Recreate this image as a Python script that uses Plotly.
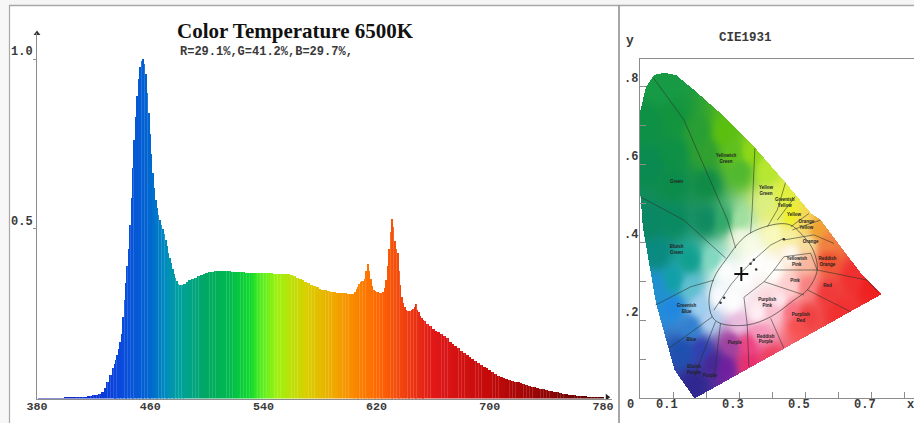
import numpy as np
import plotly.graph_objects as go

# ---------- spectrum (2 nm steps outside the peaks, 1 nm steps through the sharp peaks) ----------
coarse_a_nm = list(range(380, 436, 2))
coarse_a = [.000,.001,.001,.001,.001,.001,.001,.001,.001,.001,
            .002,.002,.002,.002,.003,.003,.004,.005,.006,.008,
            .009,.011,.014,.020,.030,.050,.068,.090]
fine_a_nm = list(range(435, 484))
fine_a = [.101,.113,.128,.145,.165,.190,.240,.290,.340,.390,.440,.510,.590,.680,.760,.830,.890,.940,.975,.995,1.000,
          .985,.955,.900,.840,.780,.720,.665,.620,.585,.560,.540,.525,.510,.500,.485,.468,.450,.430,.413,.398,
          .380,.367,.355,.345,.338,.334,.333,.335]
coarse_b_nm = list(range(484, 606, 2))
coarse_b = [.338,.344,.349,.352,.356,.360,.364,.367,
            .369,.372,.374,.376,.377,.377,.376,.376,.375,.374,
            .374,.373,.372,.372,.371,.371,.370,.370,.369,.369,
            .369,.369,.369,.369,.368,.368,.368,.368,.368,.366,
            .364,.360,.356,.352,.349,.344,.339,.335,.331,.327,
            .324,.321,.319,.317,.315,.313,.312,.311,.310,.310,
            .309,.308,.309]
fine_b_nm = list(range(605, 654))
fine_b = [.315,.322,.329,.336,.342,.345,.347,.352,.375,.396,.375,.352,.332,.320,.317,.315,.313,.312,.311,.310,.315,
          .325,.349,.390,.440,.490,.528,.505,.465,.440,.428,.375,.335,.300,.280,.270,.262,.257,.257,.258,.260,
          .263,.270,.278,.262,.254,.244,.236,.232]
coarse_c_nm = list(range(654, 782, 2))
coarse_c = [.228,.220,.213,
            .206,.200,.195,.190,.184,.177,.167,.161,.155,.148,
            .141,.135,.129,.123,.117,.111,.105,.100,.094,.089,
            .084,.078,.072,.067,.062,.060,.057,.054,.052,.050,
            .048,.046,.043,.040,.037,.035,.033,.031,.029,.027,
            .025,.023,.021,.020,.018,.016,.014,.012,.011,.010,
            .009,.008,.007,.006,.006,.005,.005,.004,.004,.004,
            .003]
color_nm = [380, 420, 440, 460, 470, 480, 500, 515, 530, 540, 550, 570, 590, 600, 620, 640, 660, 700, 740, 780]
color_hex = ["#1a1aa0", "#0a34d8", "#0a4adc", "#0066d0", "#0088c0", "#00a0a0", "#00a860", "#00b850",
             "#10d830", "#60f020", "#a0f010", "#d8d000", "#f0a800", "#f89000", "#ff6a00", "#f04010",
             "#e01818", "#c40a0a", "#900404", "#500000"]
spectrum_ticks = [380, 460, 540, 620, 700, 780]

# ---------- CIE 1931 ----------
locus_x = [.164,.103,.047,.007,0,0,.017,.042,.073,.108,.164,.255,.345,.441,.517,.547,.597,.669,.730]
locus_y = [.000,.073,.244,.440,.52,.74,.800,.830,.835,.829,.790,.722,.645,.552,.475,.457,.400,.320,.267]
# colours sampled from the diagram: x, y, r, g, b
colour_samples = [
 (.07,.80,24,155,70),(.03,.70,14,145,70),(.10,.72,18,148,62),(.174,.68,40,158,52),(.255,.68,92,192,16),
 (.03,.60,10,138,80),(.10,.63,14,144,70),(.20,.63,48,160,48),(.283,.63,96,192,32),(.333,.63,144,216,24),
 (.384,.585,184,232,48),(.303,.585,80,184,48),(.20,.55,16,140,72),(.10,.55,12,140,75),
 (.384,.50,220,240,130),(.434,.517,224,240,64),(.303,.457,160,224,160),(.253,.457,48,168,104),
 (.20,.457,16,138,96),(.10,.457,10,138,96),(.03,.45,10,135,100),(.05,.372,10,138,128),(.15,.355,16,160,144),
 (.222,.355,128,216,192),(.10,.303,16,160,168),(.05,.286,32,144,208),(.15,.286,96,192,208),(.10,.235,32,136,224),
 (.18,.235,160,208,240),(.455,.466,240,240,32),(.414,.47,232,240,112),(.495,.449,248,216,96),(.535,.432,240,160,48),
 (.505,.397,248,224,160),(.566,.397,240,128,64),(.566,.355,240,80,48),(.505,.346,248,184,160),(.455,.372,255,248,240),
 (.646,.312,240,48,48),(.70,.29,240,32,32),(.566,.269,240,58,58),(.505,.286,248,128,128),(.455,.286,255,208,208),
 (.424,.252,255,232,240),(.455,.226,248,112,128),(.404,.218,250,192,208),(.354,.218,255,240,245),(.505,.209,240,64,64),
 (.60,.22,240,48,48),(.303,.415,240,248,224),(.333,.397,248,252,232),(.404,.423,250,250,192),(.455,.415,248,240,160),
 (.253,.329,255,255,255),(.31,.31,255,255,255),(.35,.35,255,255,255),(.40,.33,255,255,252),(.28,.25,255,255,255),
 (.24,.26,250,252,255),(.154,.184,48,128,208),(.21,.20,180,210,240),(.184,.124,48,64,176),(.13,.12,30,80,176),
 (.164,.038,48,40,144),(.22,.09,70,40,150),(.255,.08,112,32,160),(.275,.14,160,64,160),(.30,.19,235,190,225),
 (.325,.14,240,64,128),(.396,.098,240,64,96),(.477,.192,248,80,80),(.36,.17,245,150,185),(.33,.09,232,48,112),
]
ellipse_x = [.209,.219,.244,.325,.396,.467,.507,.537,.522,.487,.457,.416,.325,.260,.224,.209]
ellipse_y = [.252,.209,.192,.188,.209,.252,.278,.329,.385,.423,.444,.447,.419,.355,.308,.252]
region_lines = [
 ([.315,.325],[.259,.188]), ([.315,.376,.497],[.259,.299,.265]), ([.376,.406,.436],[.299,.329,.363]),
 ([.436,.517,.537],[.363,.372,.329]), ([.406,.537,.689,.719],[.329,.329,.303,.274]),
 ([.436,.527,.588],[.406,.419,.397]), ([.436,.396,.345,.305,.275,.224],[.410,.393,.355,.321,.291,.226]),
 ([.507,.638],[.278,.222]), ([.396,.436],[.205,.128]), ([.325,.330],[.188,.081]),
 ([.244,.234,.224],[.192,.115,.047]), ([.229,.184,.164],[.197,.098,.056]), ([.219,.088],[.209,.128]),
 ([.224,.154,.047],[.303,.286,.239]), ([0,.133,.260],[.517,.457,.359]), ([.042,.133,.265,.290],[.82,.714,.457,.385]),
 ([.335,.340,.348],[.423,.483,.641]), ([.386,.416,.441],[.440,.483,.553]), ([.47,.416],[.517,.457]),
 ([.457,.512],[.440,.474]), ([.462,.547],[.432,.457]),
]
region_names = ["Green","Yellowish<br>Green","Yellow<br>Green","Greenish<br>Yellow","Yellow","Orange<br>Yellow","Orange",
                "Bluish<br>Green","Greenish<br>Blue","Blue","Bluish<br>Purple","Purple","Purple","Reddish<br>Purple","Purplish<br>Red",
                "Purplish<br>Pink","Pink","Red","Reddish<br>Orange","Yellowish<br>Pink"]
region_x = [.111,.261,.382,.439,.467,.504,.517,.111,.141,.156,.164,.212,.287,.381,.487,.386,.47,.568,.568,.475]
region_y = [.554,.613,.532,.502,.470,.444,.402,.380,.229,.150,.073,.058,.143,.151,.207,.244,.302,.288,.350,.350]
white_x = [.307]; white_y = [.319]
locus_dots_x = [.345,.352,.335,.244,.255,.436]
locus_dots_y = [.355,.330,.345,.245,.258,.408]
cie_ticks = [.1,.2,.3,.4,.5,.6,.7,.8]
cie_x_labels = [("0.1",.1),("0.3",.3),("0.5",.5),("0.7",.7)]
cie_y_labels = [(".8",.8),(".6",.6),(".4",.4),(".2",.2)]

W, H = 914, 423
def fx(p): return p / W
def fy(p): return 1 - p / H

fig = go.Figure()

# spectrum bars
stops = [[(n - 380) / 400, c] for n, c in zip(color_nm, color_hex)]
nm = coarse_a_nm + fine_a_nm + coarse_b_nm + fine_b_nm + coarse_c_nm
val = coarse_a + fine_a + coarse_b + fine_b + coarse_c
widths = ([2] * len(coarse_a)) + ([1] * len(fine_a)) + ([2] * len(coarse_b)) + ([1] * len(fine_b)) + ([2] * len(coarse_c))
fig.add_trace(go.Bar(x=nm, y=val, width=widths,
                     marker=dict(color=nm, colorscale=stops, cmin=380, cmax=780, line=dict(width=0)),
                     hoverinfo="skip", showlegend=False, xaxis="x", yaxis="y"))
# pale vertical striping of the bars
stripe_nm = [n for n in nm if n % 2 == 0]
stripe_val = [val[nm.index(n)] for n in stripe_nm]
fig.add_trace(go.Bar(x=stripe_nm, y=stripe_val, width=0.4,
                     marker=dict(color="rgba(255,255,255,0.14)", line=dict(width=0)),
                     hoverinfo="skip", showlegend=False, xaxis="x", yaxis="y"))
fig.add_trace(go.Scatter(x=[380], y=[1.075], mode="markers", cliponaxis=False,
                         marker=dict(symbol="triangle-up", size=6, color="#333"), showlegend=False, xaxis="x", yaxis="y"))
fig.add_trace(go.Scatter(x=[783], y=[.004], mode="markers", cliponaxis=False,
                         marker=dict(symbol="triangle-right", size=6, color="#222"), showlegend=False, xaxis="x", yaxis="y"))

# chromaticity field
XR, YR = (W - 640) / 330, (398.3 - 58.7) / 390
gx = np.arange(0, XR, 1 / 330)
gy = np.arange(0, YR, 1 / 390)
GX, GY = np.meshgrid(gx, gy)
samples = np.array(colour_samples, dtype=float)
ax, ay, ac = samples[:, 0], samples[:, 1], samples[:, 2:]
d2 = (GX[..., None] - ax) ** 2 + (GY[..., None] - ay) ** 2 + 3e-4
wgt = 1 / d2 ** 2
rgb = (wgt[..., None] * ac).sum(2) / wgt.sum(2)[..., None]
lx, ly = np.array(locus_x), np.array(locus_y)
inside = np.zeros(GX.shape, bool)
for i in range(len(lx)):
    j = (i + 1) % len(lx)
    cross = (ly[i] > GY) != (ly[j] > GY)
    dy = ly[j] - ly[i]
    if dy == 0:
        continue
    xc = lx[i] + (GY - ly[i]) * (lx[j] - lx[i]) / dy
    inside ^= cross & (GX < xc)
alpha = np.where(inside, 255, 0)
img = np.dstack([rgb, alpha]).astype(np.uint8)
fig.add_trace(go.Image(z=img, colormodel="rgba256", x0=0, dx=1 / 330, y0=0, dy=1 / 390,
                       hoverinfo="skip", xaxis="x2", yaxis="y2"))

line_c = "rgba(40,50,40,0.7)"
for lxs, lys in region_lines:
    fig.add_trace(go.Scatter(x=lxs, y=lys, mode="lines", line=dict(color=line_c, width=0.8),
                             showlegend=False, hoverinfo="skip", xaxis="x2", yaxis="y2"))
fig.add_trace(go.Scatter(x=ellipse_x, y=ellipse_y, mode="lines", line=dict(color=line_c, width=0.9, shape="spline"),
                         showlegend=False, hoverinfo="skip", xaxis="x2", yaxis="y2"))
fig.add_trace(go.Scatter(x=locus_dots_x, y=locus_dots_y, mode="markers", marker=dict(size=2.5, color="#333"),
                         showlegend=False, hoverinfo="skip", xaxis="x2", yaxis="y2"))
fig.add_trace(go.Scatter(x=white_x, y=white_y, mode="markers",
                         marker=dict(symbol="cross-thin", size=10, line=dict(color="#111", width=2)),
                         showlegend=False, hoverinfo="skip", xaxis="x2", yaxis="y2"))
fig.add_trace(go.Scatter(x=region_x, y=region_y, mode="text", text=region_names,
                         textfont=dict(size=4.5, family="Liberation Sans", color="#222", weight="bold"),
                         showlegend=False, hoverinfo="skip", xaxis="x2", yaxis="y2"))
# an invisible full-page pair of axes carries the free labels
fig.add_trace(go.Scatter(x=[0, W], y=[0, H], mode="markers", marker=dict(opacity=0, size=1),
                         showlegend=False, hoverinfo="skip", xaxis="x3", yaxis="y3"))

# annotations
MONO = "Liberation Mono"
def note(text, px, py, size=12, color="#3a3a3a", family=MONO, bold=True, anchor="center"):
    fig.add_annotation(xref="x3", yref="y3", x=px, y=py, text=f"<b>{text}</b>" if bold else text,
                       showarrow=False, xanchor=anchor, yanchor="middle",
                       font=dict(family=family, size=size, color=color), borderpad=0, borderwidth=0)

note("Color Temperature 6500K", 177, 31, size=21, color="#111", family="Liberation Serif", anchor="left")
note("R=29.1%,G=41.2%,B=29.7%,", 180, 52, size=12, anchor="left")
note("1.0", 22, 52)
note("0.5", 22, 222)
note("CIE1931", 745, 38, size=12.5)
note("y", 630, 40, size=13)
for t, v in cie_y_labels:
    note(t, 631, 398.3 - 390 * v - 7, size=12)
for t, v in cie_x_labels:
    note(t, 640 + 330 * v - 6, 405, size=12)
note("0", 630, 405, size=12)
note("x", 913.5, 405, size=12, anchor="right")

# frame
frame = "#a8a8a8"
shapes = [
    dict(type="rect", xref="paper", yref="paper", x0=0, x1=1, y0=fy(5), y1=1, fillcolor="#f5f5f5", line_width=0, layer="below"),
    dict(type="rect", xref="paper", yref="paper", x0=0, x1=fx(9), y0=0, y1=1, fillcolor="#f7f7f7", line_width=0, layer="below"),
    dict(type="line", xref="paper", yref="paper", x0=fx(9), x1=1, y0=fy(5.5), y1=fy(5.5), line=dict(color=frame, width=1.5)),
    dict(type="line", xref="paper", yref="paper", x0=fx(9.5), x1=fx(9.5), y0=0, y1=fy(5.5), line=dict(color=frame, width=1.2)),
    dict(type="line", xref="paper", yref="paper", x0=fx(619), x1=fx(619), y0=0, y1=fy(5.5), line=dict(color="#8a8a8a", width=1.5)),
]

axis_line = "#8c8c8c"
fig.update_layout(
    width=W, height=H, autosize=False, margin=dict(l=0, r=0, t=0, b=0, autoexpand=False),
    paper_bgcolor="white", plot_bgcolor="rgba(0,0,0,0)", bargap=0, barmode="overlay", showlegend=False, shapes=shapes,
    xaxis=dict(domain=[fx(37), fx(612)], range=[380, 380 + 575 / 1.415], tickvals=spectrum_ticks,
               showgrid=False, zeroline=False, showline=True, linecolor=axis_line, linewidth=1.2,
               ticks="", ticklen=0, anchor="y", ticklabelstandoff=-4,
               tickfont=dict(family=MONO, size=11.7, color="#3a3a3a", weight="bold")),
    yaxis=dict(domain=[fy(398.5), fy(33)], range=[0, 365.5 / 339.5], tickvals=[.5, 1.0],
               showticklabels=False, showgrid=False, zeroline=False, showline=True, linecolor=axis_line,
               linewidth=1.2, ticks="outside", ticklen=3, tickcolor=axis_line, anchor="x"),
    xaxis2=dict(domain=[fx(640), 1], range=[0, XR], tickvals=cie_ticks, showticklabels=False,
                showgrid=False, zeroline=False, showline=True, mirror=True, linecolor=axis_line, linewidth=1.2,
                ticks="inside", ticklen=6, tickcolor=axis_line, anchor="y2", scaleanchor=False, constrain="range"),
    yaxis2=dict(domain=[fy(398.3), fy(58.7)], range=[0, YR], tickvals=cie_ticks, showticklabels=False,
                showgrid=False, zeroline=False, showline=True, linecolor=axis_line, linewidth=1.2,
                ticks="inside", ticklen=6, tickcolor=axis_line, anchor="x2", scaleanchor=False, constrain="range",
                autorange=False),
    xaxis3=dict(domain=[0, 1], range=[0, W], visible=False, anchor="y3"),
    yaxis3=dict(domain=[0, 1], range=[H, 0], visible=False, anchor="x3"),
)

fig.write_html("out.html", config={"displayModeBar": False}, post_script="document.body.style.margin='0';")
